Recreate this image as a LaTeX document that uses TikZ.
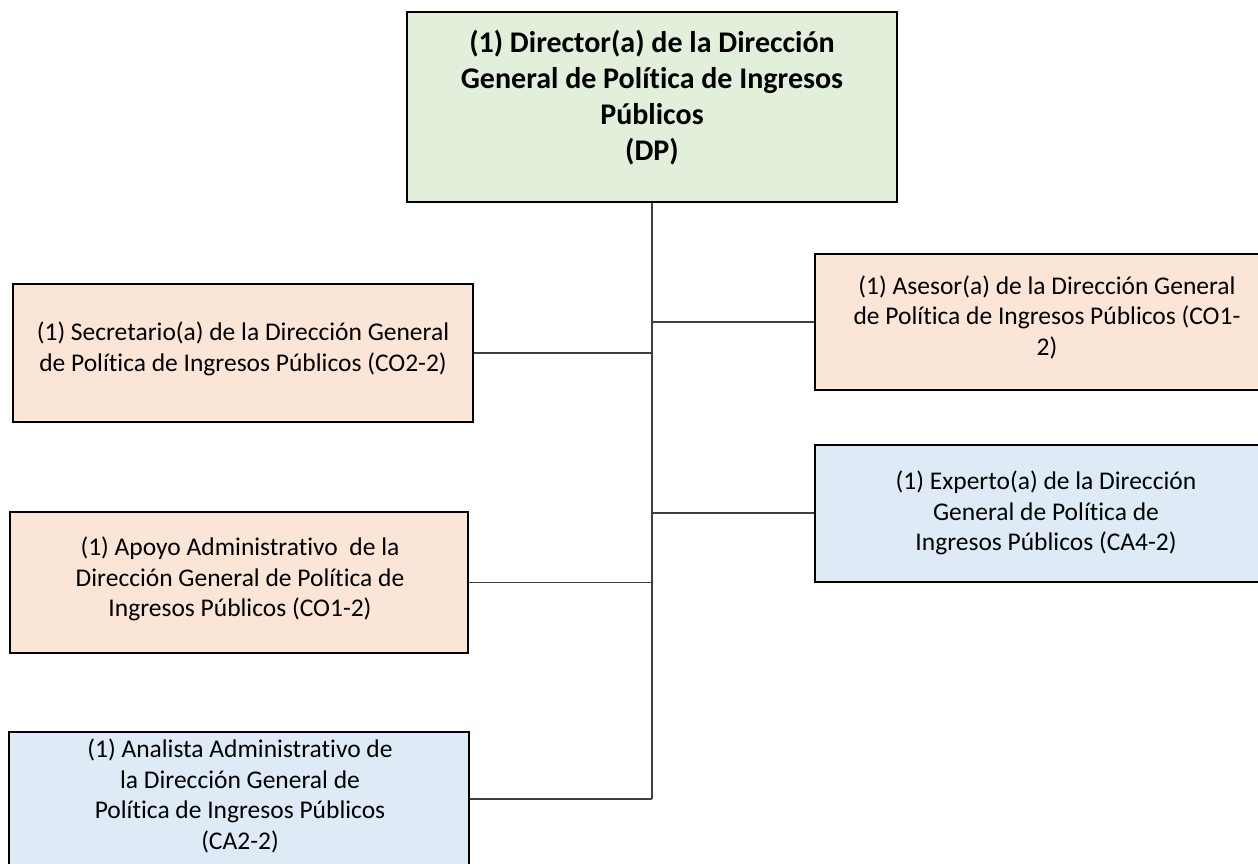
\documentclass[tikz,border=0pt]{standalone}
\usepackage{fontspec}
\setmainfont{Carlito}[Ligatures={NoCommon}]
\definecolor{dpgreen}{HTML}{E2EFDA}
\definecolor{copeach}{HTML}{FBE5D6}
\definecolor{cablue}{HTML}{DEEBF7}
\definecolor{linegray}{HTML}{404040}
\tikzset{
  orgbox/.style={draw=black, line width=2pt, inner sep=0pt, minimum width=460pt, minimum height=138pt},
  orgtxt/.style={align=center, inner sep=0pt, font=\fontsize{25.5}{30.5}\selectfont},
  toptxt/.style={align=center, inner sep=0pt, font=\fontsize{30}{36}\selectfont\bfseries},
  link/.style={draw=linegray, line width=1.4pt}
}
\begin{document}
\begin{tikzpicture}[x=1pt,y=-1pt]
\useasboundingbox[fill=white] (0,0) rectangle (1258,864);
% boxes
\node[orgbox, fill=dpgreen, minimum width=490pt, minimum height=190pt] (dp) at (652,107) {};
\node[toptxt] (dpt) at (652,98) {(1) Director(a) de la Dirección\\General de Política de Ingresos\\Públicos\\(DP)};

\node[orgbox, fill=copeach] (sec) at (243,353) {};
\node[orgtxt] (sect) at (243,349) {(1) Secretario(a) de la Dirección General\\de Política de Ingresos Públicos (CO2-2)};

\node[orgbox, fill=copeach, minimum width=462pt, minimum height=136pt] (ase) at (1046,322) {};
\node[orgtxt] (aset) at (1047,317) {(1) Asesor(a) de la Dirección General\\de Política de Ingresos Públicos (CO1-\\2)};

\node[orgbox, fill=cablue, minimum width=462pt, minimum height=137pt] (exp) at (1046,513) {};
\node[orgtxt] (expt) at (1046,513) {(1) Experto(a) de la Dirección\\General de Política de\\Ingresos Públicos (CA4-2)};

\node[orgbox, fill=copeach, minimum width=458pt, minimum height=141pt] (apo) at (239,582.5) {};
\node[orgtxt] (apot) at (240,579) {(1) Apoyo Administrativo\ \ de la\\Dirección General de Política de\\Ingresos Públicos (CO1-2)};

\node[orgbox, fill=cablue] (ana) at (239,801) {};
\node[orgtxt] (anat) at (240,796) {(1) Analista Administrativo de\\la Dirección General de\\Política de Ingresos Públicos\\(CA2-2)};

% connectors
\coordinate (bot) at (652,799);
\path[link] (dp.south) -- (bot);
\path[link] (sec.east) -- (sec.east -| dp.south);
\path[link] (ase.west) -- (ase.west -| dp.south);
\path[link] (exp.west) -- (exp.west -| dp.south);
\path[link] (apo.east) -- (apo.east -| dp.south);
\path[link] (bot -| ana.east) -- (bot);
\end{tikzpicture}
\end{document}
